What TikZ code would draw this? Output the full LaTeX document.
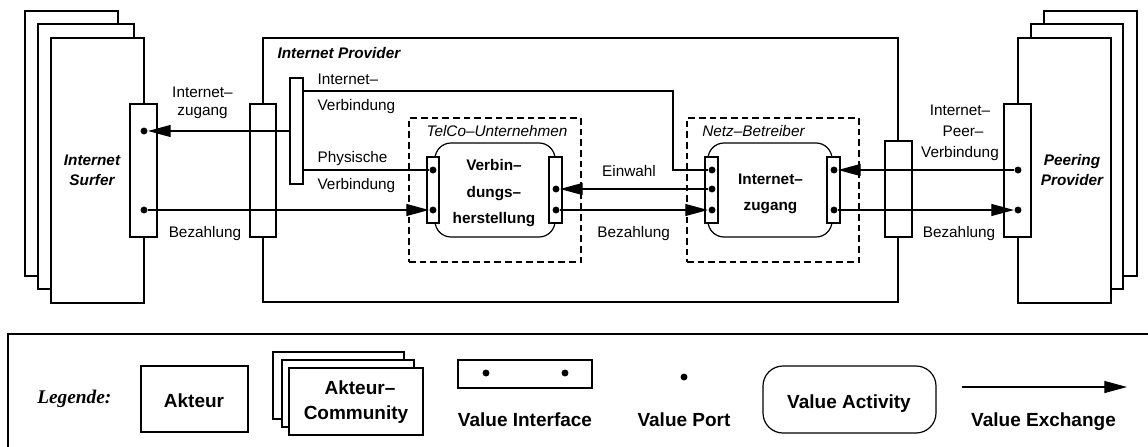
\documentclass[tikz,border=0pt]{standalone}
\usepackage{fontspec}
\setmainfont{Liberation Sans}
\newfontfamily\legserif{Liberation Serif}
\usetikzlibrary{arrows.meta,fit}
\begin{document}
\begin{tikzpicture}[x=0.75pt,y=-0.75pt,line width=0.9pt,
  box/.style={draw,fill=white,inner sep=0pt},
  iface/.style={draw,fill=white,inner sep=0pt},
  grp/.style={draw,inner sep=0pt,dash pattern=on 5pt off 3pt},
  act/.style={draw,fill=white,inner sep=0pt,rounded corners=12pt},
  port/.style={circle,fill=black,inner sep=0pt,minimum size=5.2pt},
  vx/.style={-{Triangle[length=17pt,width=9pt]}},
  lbl/.style={inner sep=0pt,anchor=base,font=\fontsize{11.5pt}{14pt}\selectfont},
  lbll/.style={lbl,anchor=base west},
  ilbl/.style={lbl,font=\fontsize{11.5pt}{14pt}\selectfont\itshape},
  bilbl/.style={lbl,font=\fontsize{11.5pt}{14pt}\selectfont\bfseries\itshape},
  blbl/.style={lbl,font=\fontsize{11.5pt}{14pt}\selectfont\bfseries},
  leg/.style={inner sep=0pt,anchor=base,font=\fontsize{14.25pt}{17pt}\selectfont\bfseries}]
\useasboundingbox (0,0) rectangle (1148,446);
\clip (0,0) rectangle (1148,446);
% Internet Surfer stack
\node[box,fit={(25,11)(118,276)}] (s3) {};
\node[box,fit={(38,24)(134,289)}] (s2) {};
\node[box,fit={(51,38)(144,303)}] (s1) {};
% Peering Provider stack
\node[box,fit={(1044,11)(1137,276)}] (q3) {};
\node[box,fit={(1031,24)(1123,289)}] (q2) {};
\node[box,fit={(1018,38)(1111,303)}] (q1) {};
% Internet Provider
\node[box,fit={(263,38)(898,302)}] (prov) {};
% groups
\node[grp,fit={(409,118)(581,262)}] (telco) {};
\node[grp,fit={(687,118)(859,262)}] (netz) {};
% activities
\node[act,fit={(435,143)(555,237)}] (a1) {};
\node[act,fit={(708,143)(832,237)}] (a2) {};
% interfaces
\node[iface,fit={(130,104)(157,237)}] (isurf) {};
\node[iface,fit={(250,104)(276,237)}] (iprovL) {};
\node[iface,fit={(290,78)(303,184)}] (iinner) {};
\node[iface,fit={(427,157)(439,223)}] (ia1L) {};
\node[iface,fit={(549,157)(562,223)}] (ia1R) {};
\node[iface,fit={(705,157)(718,223)}] (ia2L) {};
\node[iface,fit={(827,157)(840,223)}] (ia2R) {};
\node[iface,fit={(885,141)(912,237)}] (iprovR) {};
\node[iface,fit={(1004,104)(1031,237)}] (ipeer) {};
% ports
\node[port] (ps1) at (144,131) {};
\node[port] (ps2) at (144,210) {};
\node[port] (pt1) at (433,170) {};
\node[port] (pt2) at (433,210) {};
\node[port] (pt3) at (556,189) {};
\node[port] (pt4) at (556,210) {};
\node[port] (pn1) at (712,170) {};
\node[port] (pn2) at (712,189) {};
\node[port] (pn3) at (712,210) {};
\node[port] (pn4) at (834,170) {};
\node[port] (pn5) at (834,210) {};
\node[port] (pp1) at (1018,170) {};
\node[port] (pp2) at (1018,210) {};
% exchanges
\coordinate (bend) at (673,91);
\draw[vx] (iinner.west) -- (ps1);
\draw[vx] (ps2) -- (pt2);
\draw (iinner.east |- pt1) -- (pt1);
\draw (iinner.east |- bend) -- (bend) |- (pn1);
\draw[vx] (pn2) -- (pt3);
\draw[vx] (pt4) -- (pn3);
\draw[vx] (pp1) -- (pn4);
\draw[vx] (pn5) -- (pp2);
% labels
\node[bilbl] (tsurf1) at (92,165.7) {Internet};
\node[bilbl] (tsurf2) at (92,185) {Surfer};
\node[bilbl] (tpeer1) at (1072,165.7) {Peering};
\node[bilbl] (tpeer2) at (1072,185) {Provider};
\node[bilbl,anchor=base west] (tprov) at (277,58) {Internet Provider};
\node[ilbl] (ttelco) at (497,136) {TelCo–Unternehmen};
\node[ilbl] (tnetz) at (753.5,136) {Netz–Betreiber};
\node[blbl] (ta1a) at (494,170) {Verbin–};
\node[blbl] (ta1b) at (494,197.7) {dungs–};
\node[blbl] (ta1c) at (494,223.3) {herstellung};
\node[blbl] (ta2a) at (770.5,184.3) {Internet–};
\node[blbl] (ta2b) at (770.5,210) {zugang};
\node[lbl] (l1a) at (202.5,97) {Internet–};
\node[lbl] (l1b) at (202.5,115.5) {zugang};
\node[lbl] (l2) at (205,237.3) {Bezahlung};
\node[lbll] (l3a) at (317,84.3) {Internet–};
\node[lbll] (l3b) at (317,110) {Verbindung};
\node[lbll] (l4a) at (317,162.3) {Physische};
\node[lbll] (l4b) at (317,189.3) {Verbindung};
\node[lbl] (l5) at (629,176) {Einwahl};
\node[lbl] (l6) at (633.7,237.7) {Bezahlung};
\node[lbl] (l7a) at (960,115.7) {Internet–};
\node[lbl] (l7b) at (963,136) {Peer–};
\node[lbl] (l7c) at (960,157.3) {Verbindung};
\node[lbl] (l8) at (959,237.3) {Bezahlung};
% legend
\node[draw,line width=1.3pt,inner sep=0pt,fit={(8,334)(1170,470)}] (legend) {};
\node[inner sep=0pt,anchor=base,font=\fontsize{14.5pt}{17pt}\selectfont\legserif\bfseries\itshape] (tleg) at (74.3,403.3) {Legende:};
\node[box,fit={(141,366)(248,432)}] (lakt) {};
\node[leg] (tlakt) at (194,407.3) {Akteur};
\node[box,fit={(273,352)(404,419)}] (lc3) {};
\node[box,fit={(282,360)(414,427)}] (lc2) {};
\node[box,fit={(289,368)(423,435)}] (lc1) {};
\node[leg] (tlc1) at (360,394) {Akteur–};
\node[leg] (tlc2) at (356,419.3) {Community};
\node[iface,fit={(458,360)(592,388)}] (lif) {};
\node[port] (lifp1) at (486,373) {};
\node[port] (lifp2) at (565,373) {};
\node[leg] (tlif) at (525,426.7) {Value Interface};
\node[port] (lport) at (684,377) {};
\node[leg] (tlport) at (684,426.7) {Value Port};
\node[act,rounded corners=15pt,fit={(763,366)(936,433)}] (lact) {};
\node[leg] (tlact) at (849,408.3) {Value Activity};
\coordinate (lx1) at (962,387);
\coordinate (lx2) at (1127,387);
\draw[vx,line width=0.8pt] (lx1) -- (lx2);
\node[leg] (tlx) at (1043.5,426.7) {Value Exchange};
\end{tikzpicture}
\end{document}
